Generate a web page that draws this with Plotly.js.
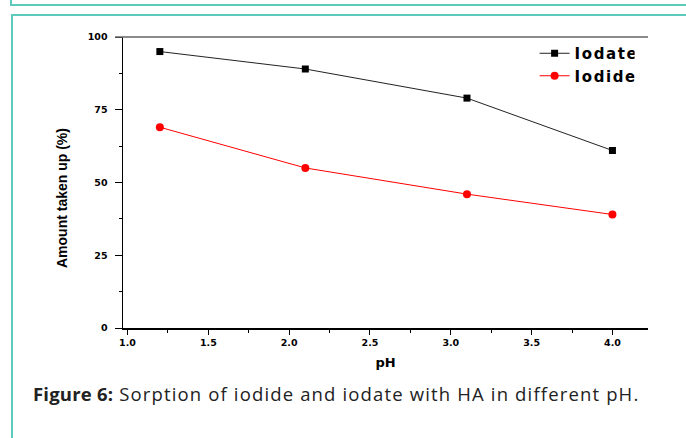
<!DOCTYPE html>
<html>
<head>
<meta charset="utf-8">
<script src="https://cdn.plot.ly/plotly-3.0.1.min.js"></script>
<style>
  html, body { margin:0; padding:0; width:686px; height:438px; overflow:hidden; background:#fff; }
  #topbox { position:absolute; left:10px; top:-10px; width:700px; height:14px; border-left:2px solid #5ccbbb; border-bottom:2px solid #5ccbbb; }
  #mainbox { position:absolute; left:11px; top:14px; width:700px; height:440px; border-left:2px solid #5ccbbb; border-top:2px solid #5ccbbb; }
  #chart { position:absolute; left:0; top:0; width:686px; height:438px; }
  #caption { position:absolute; left:33px; top:381px; font-family:"Open Sans", sans-serif; font-size:18.5px; letter-spacing:1.15px; color:#222; white-space:nowrap; }
  #caption b { letter-spacing:0.2px; }
  #chart .legendtext { letter-spacing:1.6px; }
</style>
</head>
<body>
<div id="topbox"></div>
<div id="mainbox"></div>
<div id="chart"></div>
<div id="caption"><b>Figure 6:</b> Sorption of iodide and iodate with HA in different pH.</div>
<script>
const pH = [1.2, 2.1, 3.1, 4.0];
const iodate = [95, 89, 79, 61];
const iodide = [69, 55, 46, 39];
const xTickVals = [1.0, 1.5, 2.0, 2.5, 3.0, 3.5, 4.0];
const xTickText = ["1.0", "1.5", "2.0", "2.5", "3.0", "3.5", "4.0"];
const yTickVals = [0, 25, 50, 75, 100];
const yTickText = ["0", "25", "50", "75", "100"];
const yTitle = "Amount taken up (%)";

const heavy = "DejaVu Sans, Arial, sans-serif";
const tickFont = {family: heavy, size: 9.5, color: "#000", weight: 700};

const traces = [
  {x: pH, y: iodate, name: "Iodate", mode: "lines+markers", type: "scatter",
   line: {color: "#222", width: 1}, marker: {symbol: "square", color: "#000", size: 7}},
  {x: pH, y: iodide, name: "Iodide", mode: "lines+markers", type: "scatter",
   line: {color: "#ff0000", width: 1}, marker: {symbol: "circle", color: "#ff0000", size: 8}}
];

const layout = {
  width: 686, height: 438,
  margin: {l: 123, r: 38, t: 37, b: 110},
  paper_bgcolor: "rgba(0,0,0,0)", plot_bgcolor: "rgba(0,0,0,0)",
  showlegend: true,
  legend: {x: 0.784, y: 1.0, xanchor: "left", yanchor: "top", bgcolor: "rgba(0,0,0,0)",
           font: {family: heavy, size: 15, color: "#000", weight: 700},
           tracegroupgap: 0, itemwidth: 30},
  xaxis: {range: [0.972, 4.22], tickvals: xTickVals, ticktext: xTickText, ticks: "outside",
          ticklen: 5, tickwidth: 1, tickcolor: "#000", showline: true, linecolor: "#000", linewidth: 1.5,
          showgrid: false, zeroline: false, tickfont: tickFont,
          minor: {dtick: 0.25, tick0: 1.0, ticks: "outside", ticklen: 3, tickcolor: "#000", tickwidth: 1, showgrid: false},
          title: {text: "pH", font: {family: heavy, size: 13, color: "#000", weight: 700}, standoff: 11}},
  yaxis: {range: [0, 100], tickvals: yTickVals, ticktext: yTickText, ticks: "outside",
          ticklen: 7, tickwidth: 1, tickcolor: "#000", showline: true, linecolor: "#000", linewidth: 1.5,
          showgrid: false, zeroline: false, tickfont: tickFont, ticklabelstandoff: 5,
          minor: {dtick: 12.5, tick0: 0, ticks: "outside", ticklen: 3, tickcolor: "#000", tickwidth: 1, showgrid: false}},
  annotations: [
    {text: yTitle, xref: "paper", yref: "paper", x: -0.116, y: 0.447, xanchor: "center", yanchor: "middle",
     textangle: -90, showarrow: false,
     font: {family: "Liberation Sans, Arial, sans-serif", size: 14, color: "#000", weight: 700}}
  ],
  shapes: [
    {type: "line", xref: "paper", yref: "paper", x0: -0.015, x1: 1, y0: 1, y1: 1,
     line: {color: "#666", width: 1.5}}
  ]
};

Plotly.newPlot("chart", traces, layout, {displayModeBar: false, staticPlot: true});
</script>
</body>
</html>
